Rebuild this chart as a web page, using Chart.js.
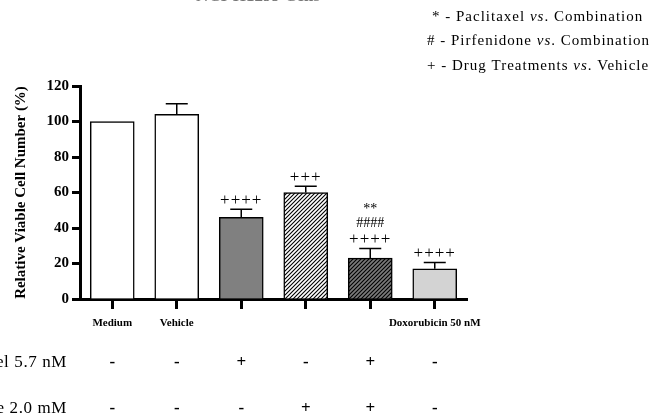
<!DOCTYPE html>
<html>
<head>
<meta charset="utf-8">
<script src="https://cdn.jsdelivr.net/npm/chart.js@4.4.1/dist/chart.umd.min.js"></script>
<style>
  html, body { margin: 0; padding: 0; background: #fff; }
  #wrap { width: 654px; height: 414px; }
</style>
</head>
<body>
<div id="wrap"><canvas id="my-chart" width="654" height="414"></canvas></div>
<script>
const groups = ['Medium', 'Vehicle', 'Paclitaxel', 'Pirfenidone', 'Combination', 'Doxorubicin'];
const tickLabels = ['Medium', 'Vehicle', '', '', '', 'Doxorubicin 50 nM'];
const viability = [100, 104, 46, 60, 23, 17];
const errorUp = [0, 6, 4.5, 3.5, 5.5, 3.5];
const plusMarks = ['', '', '++++', '+++', '++++', '++++'];
const hashMarks = ['', '', '', '', '####', ''];
const starMarks = ['', '', '', '', '**', ''];
const rowNames = ['Paclitaxel 5.7 nM', 'Pirfenidone 2.0 mM'];
const paclitaxelRow = ['-', '-', '+', '-', '+', '-'];
const pirfenidoneRow = ['-', '-', '-', '+', '+', '-'];
const legendLines = [
  ['* - Paclitaxel ', 'vs', '. Combination'],
  ['# - Pirfenidone ', 'vs', '. Combination'],
  ['+ - Drug Treatments ', 'vs', '. Vehicle']
];
const titleText = 'NCI-H1299 Cells';

const serif = '"Liberation Serif", "Times New Roman", serif';
const ctx = document.getElementById('my-chart').getContext('2d');

// diagonal hatch fill
function makeHatch(bg) {
  const c = document.createElement('canvas');
  c.width = c.height = 4;
  const g = c.getContext('2d');
  g.fillStyle = bg;
  g.fillRect(0, 0, 4, 4);
  g.strokeStyle = '#000';
  g.lineWidth = 1.1;
  g.beginPath();
  g.moveTo(0, 4); g.lineTo(4, 0);
  g.moveTo(-1, 1); g.lineTo(1, -1);
  g.moveTo(3, 5); g.lineTo(5, 3);
  g.stroke();
  return ctx.createPattern(c, 'repeat');
}

const fills = ['#ffffff', '#ffffff', '#808080', makeHatch('#ffffff'), makeHatch('#7a7a7a'), '#d3d3d3'];

const extras = {
  id: 'extras',
  afterDatasetsDraw(chart) {
    const c = chart.ctx;
    const y = chart.scales.y;
    const bars = chart.getDatasetMeta(0).data;
    c.save();
    c.strokeStyle = '#000';
    c.fillStyle = '#000';
    c.lineWidth = 1.5;
    c.textAlign = 'center';
    c.textBaseline = 'middle';
    bars.forEach((bar, i) => {
      const top = y.getPixelForValue(viability[i] + errorUp[i]);
      if (errorUp[i] > 0) {
        c.beginPath();
        c.moveTo(bar.x, bar.y);
        c.lineTo(bar.x, top);
        c.moveTo(bar.x - 11, top);
        c.lineTo(bar.x + 11, top);
        c.stroke();
      }
      c.letterSpacing = '1px';
      c.font = '17px ' + serif;
      c.fillText(plusMarks[i], bar.x, top - 9);
      c.letterSpacing = '0px';
      c.font = '14px ' + serif;
      c.fillText(hashMarks[i], bar.x, top - 25);
      c.font = '14px ' + serif;
      c.fillText(starMarks[i], bar.x, top - 39);
      c.font = 'bold 17px ' + serif;
      c.fillText(paclitaxelRow[i], bar.x, 363);
      c.fillText(pirfenidoneRow[i], bar.x, 409);
    });

    // row names on the left (cut by the edge)
    c.textAlign = 'right';
    c.letterSpacing = '0.6px';
    c.font = '17px ' + serif;
    c.fillText(rowNames[0], 67, 363);
    c.fillText(rowNames[1], 67, 409);

    // legend of symbols
    c.textAlign = 'left';
    c.letterSpacing = '1px';
    const lx = [432, 427, 427];
    legendLines.forEach((parts, k) => {
      let x = lx[k];
      const ly = 17 + k * 24.5;
      parts.forEach((p, j) => {
        c.font = (j === 1 ? 'italic ' : '') + '15px ' + serif;
        c.fillText(p, x, ly);
        x += c.measureText(p).width;
      });
    });
    c.letterSpacing = '0px';

    // title, mostly above the picture
    c.textAlign = 'center';
    c.textBaseline = 'alphabetic';
    c.font = 'bold 17px ' + serif;
    c.fillStyle = '#777';
    c.fillText(titleText, 258, 0.5);
    c.restore();
  }
};

const chart = new Chart(ctx, {
  type: 'bar',
  data: {
    labels: tickLabels,
    datasets: [{
      label: 'Relative viable cell number',
      data: viability,
      backgroundColor: fills,
      borderColor: '#000',
      borderWidth: 1.5,
      borderSkipped: 'bottom',
      barThickness: 44
    }]
  },
  options: {
    responsive: false,
    animation: false,
    layout: { padding: { top: 86, right: 187, bottom: 0, left: 0 } },
    plugins: {
      legend: { display: false },
      tooltip: { enabled: false }
    },
    scales: {
      x: {
        type: 'category',
        afterFit: s => { s.height = 115; },
        border: { color: '#000', width: 3 },
        grid: { display: true, drawOnChartArea: false, drawTicks: true, tickLength: 10, tickWidth: 3, tickColor: '#000', offset: false },
        ticks: {
          color: '#000',
          autoSkip: false,
          maxRotation: 0,
          padding: 8,
          font: { family: serif, size: 11, weight: 'bold' }
        }
      },
      y: {
        min: 0,
        max: 120,
        afterFit: s => { s.width = 80; },
        border: { color: '#000', width: 3 },
        grid: { display: true, drawOnChartArea: false, drawTicks: true, tickLength: 8, tickWidth: 3, tickColor: '#000' },
        ticks: {
          stepSize: 20,
          color: '#000',
          padding: 3,
          font: { family: serif, size: 15, weight: 'bold' }
        },
        title: {
          display: true,
          text: 'Relative Viable Cell Number (%)',
          color: '#000',
          padding: { top: 12, bottom: 4 },
          font: { family: serif, size: 15, weight: 'bold' }
        }
      }
    }
  },
  plugins: [extras]
});
</script>
</body>
</html>
